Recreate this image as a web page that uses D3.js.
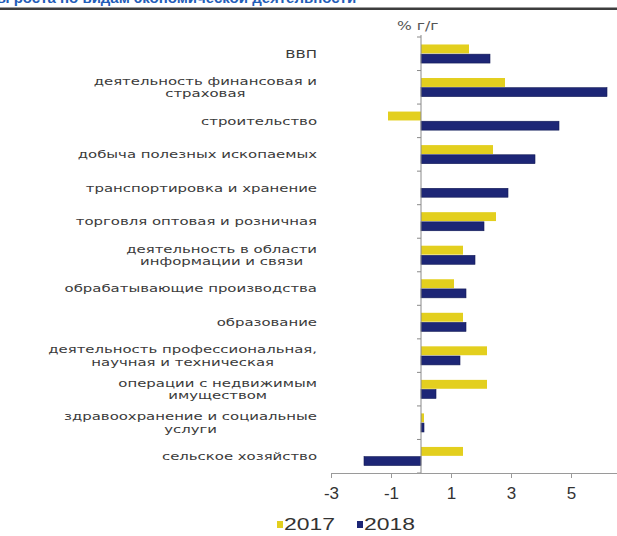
<!DOCTYPE html>
<html><head><meta charset="utf-8">
<script src="https://cdn.jsdelivr.net/npm/d3@7"></script>
<style>html,body{margin:0;padding:0;background:#fff;}svg{display:block;}</style>
</head><body>
<svg id="c" width="617" height="536"></svg>
<script>
const categories = [
  ["ВВП"],
  ["деятельность финансовая и", "страховая"],
  ["строительство"],
  ["добыча полезных ископаемых"],
  ["транспортировка и хранение"],
  ["торговля оптовая и розничная"],
  ["деятельность в области", "информации и связи"],
  ["обрабатывающие производства"],
  ["образование"],
  ["деятельность профессиональная,", "научная и техническая"],
  ["операции с недвижимым", "имуществом"],
  ["здравоохранение и социальные", "услуги"],
  ["сельское хозяйство"]
];
const seriesNames = ["2017", "2018"];
const values2017 = [1.6, 2.8, -1.1, 2.4, 0.0, 2.5, 1.4, 1.1, 1.4, 2.2, 2.2, 0.1, 1.4];
const values2018 = [2.3, 6.2, 4.6, 3.8, 2.9, 2.1, 1.8, 1.5, 1.5, 1.3, 0.5, 0.1, -1.9];
const xTicks = [-3, -1, 1, 3, 5];
const colors = ["#E3CF1E", "#1D2676"];
const titleText = "Темпы роста по видам экономической деятельности";
const unitText = "% г/г";

const svg = d3.select("#c");

// title fragment (cut at top in the reference) and rule
svg.append("text").attr("x", -40).attr("y", 3)
  .attr("font-family", "Liberation Sans, Arial, sans-serif").attr("font-weight", "bold")
  .attr("font-size", 15).attr("fill", "#1F5DB8").text(titleText);
svg.append("rect").attr("x", 0).attr("y", 7.5).attr("width", 617).attr("height", 2.5).attr("fill", "#3d3d3d");

const x = d3.scaleLinear().domain([-3, 7]).range([331, 631]);
const idx = d3.range(categories.length);
const y = d3.scaleBand().domain(idx).range([37, 473]).paddingInner(0.4).paddingOuter(0.2);
const ySub = d3.scaleBand().domain(seriesNames).range([0, y.bandwidth()]).padding(0.08);
const yFull = d3.scaleBand().domain(idx).range([37, 473]);

// unit label
svg.append("g").attr("transform", `translate(397,30) scale(1.3,1)`)
  .append("text").attr("font-family", "DejaVu Sans, sans-serif").attr("font-size", 12)
  .attr("fill", "#555").text(unitText);

// bars
const series = [values2017, values2018];
series.forEach((vals, si) => {
  svg.append("g").selectAll("rect").data(idx).join("rect")
    .attr("x", i => x(Math.min(0, vals[i])))
    .attr("width", i => Math.abs(x(vals[i]) - x(0)))
    .attr("y", i => y(i) + ySub(seriesNames[si]))
    .attr("height", ySub.bandwidth())
    .attr("fill", colors[si])
    .attr("stroke", si === 1 ? "#121a55" : "none")
    .attr("stroke-width", 0.6);
});

// y axis line at zero with ticks at band boundaries
const yAxisG = svg.append("g");
yAxisG.append("line").attr("x1", x(0)).attr("x2", x(0)).attr("y1", 35).attr("y2", 473)
  .attr("stroke", "#8a8a8a").attr("stroke-width", 1);
yAxisG.selectAll("line.t").data(idx.concat([categories.length])).join("line").attr("class", "t")
  .attr("x1", x(0) - 4).attr("x2", x(0))
  .attr("y1", i => i < categories.length ? yFull(i) : 473)
  .attr("y2", i => i < categories.length ? yFull(i) : 473)
  .attr("stroke", "#8a8a8a");

// x axis
const xAxis = d3.axisBottom(x).tickValues(xTicks).tickSize(5).tickSizeOuter(0)
  .tickFormat(d3.format("d"));
const xg = svg.append("g").attr("transform", "translate(0,473)").call(xAxis);
xg.select(".domain").attr("stroke", "#9a9a9a");
xg.selectAll(".tick line").attr("stroke", "#9a9a9a");
xg.selectAll(".tick text").attr("font-family", "Liberation Sans, Arial, sans-serif")
  .attr("font-size", 17).attr("fill", "#333").attr("dy", "1.05em")
  .text(d => d < 0 ? "-" + Math.abs(d) : d);

// category labels
const labelRight = 317;
const sx = 1.42;
idx.forEach(i => {
  const lines = categories[i];
  const cy = yFull(i) + yFull.bandwidth() / 2;
  const g = svg.append("g").attr("transform", `translate(${labelRight},${cy}) scale(${sx},1)`);
  const texts = g.selectAll("text").data(lines).join("text")
    .attr("font-family", "DejaVu Sans, sans-serif").attr("font-size", 10.5)
    .attr("fill", "#3a3a3a").attr("text-anchor", "middle")
    .attr("y", (d, k) => (k - (lines.length - 1) / 2) * 12.5 + 3.8)
    .text(d => d);
  let maxW = 0;
  texts.each(function(){ maxW = Math.max(maxW, this.getComputedTextLength()); });
  texts.attr("x", -maxW / 2);
});

// legend
const leg = svg.append("g");
const legItems = [{name: seriesNames[0], c: colors[0], x: 277}, {name: seriesNames[1], c: colors[1], x: 357}];
legItems.forEach(it => {
  leg.append("rect").attr("x", it.x).attr("y", 521).attr("width", 6).attr("height", 7).attr("fill", it.c);
  leg.append("g").attr("transform", `translate(${it.x + 7},530) scale(1.35,1)`)
    .append("text").attr("font-family", "Liberation Sans, Arial, sans-serif")
    .attr("font-size", 17).attr("fill", "#333").text(it.name);
});
</script>
</body></html>
